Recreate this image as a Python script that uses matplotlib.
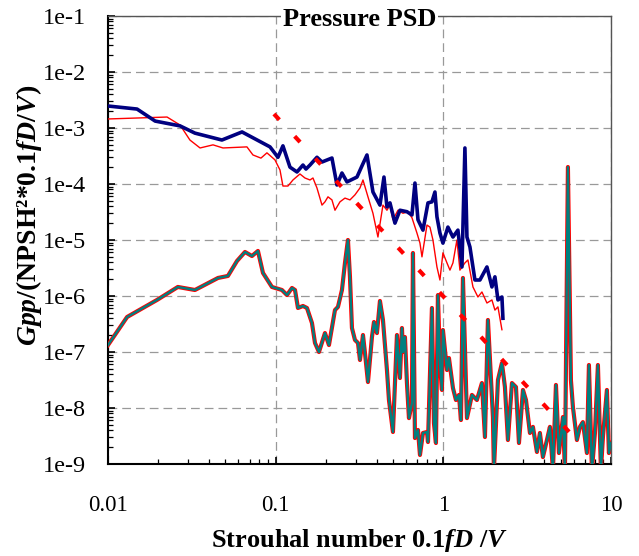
import matplotlib
matplotlib.use("Agg")
import matplotlib.pyplot as plt
from matplotlib.ticker import FixedLocator, FixedFormatter, LogLocator, NullFormatter

# ---- data ----
# upper pair (thick navy, thin red), Strouhal 0.01 .. ~2.3
st_blue = [0.0100, 0.0149, 0.0191, 0.0269, 0.0330, 0.0478, 0.0630, 0.0925, 0.1032, 0.1105,
           0.1217, 0.1340, 0.1455, 0.1516, 0.1602, 0.1763, 0.1889, 0.2166, 0.2320, 0.2485,
           0.2663, 0.3054, 0.3270, 0.3504, 0.3804, 0.4188, 0.4425, 0.4610, 0.4805, 0.5146,
           0.5511, 0.6067, 0.6499, 0.6772, 0.7058, 0.7560, 0.8099, 0.8551, 0.8912, 0.9160,
           0.9545, 0.9945, 1.065, 1.141, 1.222, 1.291, 1.345, 1.383, 1.441, 1.543,
           1.653, 1.820, 1.949, 2.031, 2.117, 2.236, 2.267]
gpp_blue = [2.47e-3, 2.18e-3, 1.33e-3, 1.09e-3, 8.1e-4, 6.1e-4, 8.5e-4, 4.6e-4, 3.0e-4, 4.8e-4,
            2.0e-4, 1.64e-4, 2.18e-4, 1.85e-4, 2.18e-4, 3.0e-4, 2.47e-4, 2.91e-4, 9.6e-5, 1.57e-4,
            1.09e-4, 1.33e-4, 2.1e-4, 3.3e-4, 7.2e-5, 4.2e-5, 1.33e-4, 3.9e-5, 4.6e-5, 2.0e-5,
            3.4e-5, 3.2e-5, 2.8e-5, 1.04e-4, 2.3e-5, 1.5e-5, 4.6e-5, 4.8e-5, 7.2e-5, 2.6e-5,
            1.33e-5, 8.8e-6, 1.7e-5, 1.13e-5, 1.5e-5, 3.3e-6, 4.4e-4, 1.13e-5, 7.5e-6, 1.93e-6,
            1.93e-6, 3.3e-6, 1.45e-6, 2.2e-6, 8.5e-7, 9.6e-7, 4.0e-7]

st_red = [0.0100, 0.0225, 0.0269, 0.0308, 0.0354, 0.0423, 0.0485, 0.0674, 0.0732, 0.0817,
          0.0887, 0.0990, 0.1061, 0.1105, 0.1184, 0.1268, 0.1396, 0.1495, 0.1602, 0.1669,
          0.1763, 0.1889, 0.1968, 0.2051, 0.2166, 0.2258, 0.2418, 0.2590, 0.2774, 0.2971,
          0.3183, 0.3317, 0.3552, 0.3804, 0.4074, 0.4364, 0.4610, 0.4805, 0.5006, 0.5362,
          0.5744, 0.6151, 0.6499, 0.6961, 0.7255, 0.7457, 0.7988, 0.8320, 0.8670, 0.9160,
          0.9545, 0.9945, 1.051, 1.095, 1.141, 1.205, 1.256, 1.345, 1.402, 1.502,
          1.608, 1.699, 1.820, 1.949, 2.031, 2.117, 2.236]
gpp_red = [1.45e-3, 1.57e-3, 1.13e-3, 6.1e-4, 4.4e-4, 5.0e-4, 4.4e-4, 4.6e-4, 3.3e-4, 2.9e-4,
           3.6e-4, 2.7e-4, 1.78e-4, 9.2e-5, 9.2e-5, 1.18e-4, 1.51e-4, 1.28e-4, 1.18e-4, 1.28e-4,
           8.5e-5, 4.2e-5, 4.8e-5, 5.9e-5, 5.2e-5, 3.4e-5, 4.8e-5, 5.6e-5, 5.2e-5, 6.4e-5,
           8.5e-5, 1.18e-4, 5.9e-5, 3.0e-5, 1.13e-5, 4.2e-5, 3.4e-5, 4.2e-5, 2.3e-5, 3.4e-5,
           3.0e-5, 3.2e-5, 2.5e-5, 1.33e-5, 8.8e-6, 5.0e-6, 1.85e-5, 1.7e-5, 1.0e-5, 3.3e-6,
           1.93e-6, 5.9e-6, 3.9e-6, 2.9e-6, 3.9e-6, 1.0e-5, 2.9e-6, 3.9e-6, 4.4e-6, 1.45e-6,
           9.6e-7, 1.18e-6, 7.5e-7, 8.5e-7, 5.6e-7, 6.4e-7, 2.5e-7]

# lower spectrum (teal with red outline), Strouhal 0.01 .. 10
st_low = [0.0100, 0.0130, 0.0196, 0.0261, 0.0330, 0.0453, 0.0519, 0.0588, 0.0656, 0.0722,
          0.0784, 0.0840, 0.0950, 0.1090, 0.1168, 0.1251, 0.1304, 0.1358, 0.1455, 0.1537,
          0.1646, 0.1716, 0.1812, 0.1968, 0.2079, 0.2258, 0.2352, 0.2485, 0.2590, 0.2698,
          0.2774, 0.2851, 0.2971, 0.3097, 0.3183, 0.3317, 0.3409, 0.3552, 0.3752, 0.3857,
          0.4019, 0.4188, 0.4364, 0.4610, 0.4739, 0.5006, 0.5289, 0.5511, 0.5665, 0.5744,
          0.5902, 0.6067, 0.6236, 0.6499, 0.6589, 0.6772, 0.7058, 0.7255, 0.7560, 0.7988,
          0.8099, 0.8551, 0.8790, 0.9035, 0.9286, 0.9545, 0.9809, 0.9945, 1.051, 1.080,
          1.141, 1.189, 1.239, 1.274, 1.309, 1.383, 1.481, 1.586, 1.699, 1.771,
          1.845, 1.976, 2.003, 2.117, 2.236, 2.330, 2.428, 2.566, 2.711, 2.825,
          2.985, 3.111, 3.285, 3.423, 3.616, 3.767, 3.926, 4.148, 4.323, 4.505,
          4.695, 4.892, 5.168, 5.312, 5.534, 5.767, 5.928, 6.262, 6.526, 6.800,
          7.184, 7.385, 7.696, 8.020, 8.356, 8.708, 8.950, 9.454, 9.716, 10.0]
gpp_low = [1.33e-7, 4.22e-7, 8.5e-7, 1.45e-6, 1.28e-6, 2.10e-6, 2.28e-6, 4.22e-6, 6.11e-6, 5.18e-6,
           6.37e-6, 2.58e-6, 1.45e-6, 1.28e-6, 1.04e-6, 1.39e-6, 1.28e-6, 6.11e-7, 6.63e-7, 6.11e-7,
           3.30e-7, 1.45e-7, 1.0e-7, 2.18e-7, 1.33e-7, 5.62e-7, 6.37e-7, 1.28e-6, 3.88e-6, 1.0e-5,
           2.19e-6, 2.68e-7, 1.64e-7, 1.45e-7, 7.2e-8, 2.01e-7, 9.6e-8, 2.91e-8, 1.85e-7, 3.43e-7,
           2.18e-7, 8.15e-7, 3.73e-7, 4.77e-8, 1.39e-8, 3.73e-9, 2.01e-7, 3.43e-8, 2.68e-7, 1.0e-7,
           1.85e-7, 2.79e-8, 6.6e-9, 1.23e-8, 5.86e-6, 2.91e-9, 4.05e-9, 1.45e-9, 3.58e-9, 3.73e-9,
           2.47e-9, 6.11e-7, 5.4e-9, 2.37e-9, 1.04e-6, 6.37e-8, 2.10e-8, 2.47e-7, 4.77e-8, 7.8e-8,
           2.28e-8, 1.39e-8, 1.71e-8, 6.1e-9, 2.10e-6, 6.6e-9, 1.71e-8, 1.39e-8, 2.79e-8, 3.03e-9,
           3.73e-7, 6.9e-9, 7.8e-10, 3.16e-8, 6.37e-8, 2.37e-8, 2.68e-9, 2.79e-8, 2.37e-8, 2.37e-9,
           2.10e-8, 1.39e-8, 3.58e-9, 4.6e-9, 1.64e-9, 3.58e-9, 1.33e-9, 2.68e-9, 4.6e-9, 7.8e-10,
           2.58e-8, 1.57e-9, 6.9e-9, 7.8e-10, 2.01e-4, 3.16e-8, 1.04e-8, 2.68e-9, 4.6e-9, 5.6e-9,
           1.57e-9, 5.86e-8, 7.8e-10, 3.58e-9, 5.86e-8, 7.8e-10, 3.03e-9, 2.10e-8, 1.57e-9, 2.37e-9]

# reference slope line (two end points)
st_slope = [0.0977, 6.09]
gpp_slope = [1.78e-3, 2.9e-9]

x_ticks = [0.01, 0.1, 1, 10]
x_ticklabels = ["0.01", "0.1", "1", "10"]
y_ticks = [1e-9, 1e-8, 1e-7, 1e-6, 1e-5, 1e-4, 1e-3, 1e-2, 1e-1]
y_ticklabels = ["1e-9", "1e-8", "1e-7", "1e-6", "1e-5", "1e-4", "1e-3", "1e-2", "1e-1"]

# ---- style ----
plt.rcParams["font.family"] = ["Liberation Serif", "DejaVu Serif"]
plt.rcParams["mathtext.fontset"] = "custom"
plt.rcParams["mathtext.rm"] = "Liberation Serif:bold"
plt.rcParams["mathtext.it"] = "Liberation Serif:italic:bold"
plt.rcParams["mathtext.bf"] = "Liberation Serif:bold"
plt.rcParams["mathtext.bfit"] = "Liberation Serif:italic:bold"

fig = plt.figure(figsize=(6.39, 5.56), dpi=100)
ax = fig.add_axes([108 / 639, 1 - 464 / 556, 503 / 639, 448 / 556])

ax.plot(st_low, gpp_low, color="red", lw=3.0, zorder=3)
ax.plot(st_low, gpp_low, color="#008080", lw=1.7, zorder=4)
ax.plot(st_red, gpp_red, color="red", lw=1.0, zorder=5)
ax.plot(st_blue, gpp_blue, color="#000080", lw=2.6, zorder=6)
ax.plot(st_slope, gpp_slope, color="red", lw=3.0, linestyle=(0, (1.9, 5.4)),
        solid_capstyle="butt", dash_capstyle="butt", zorder=7)

ax.set_xscale("log")
ax.set_yscale("log")
ax.set_xlim(0.01, 10)
ax.set_ylim(1e-9, 1e-1)

ax.xaxis.set_major_locator(FixedLocator(x_ticks))
ax.xaxis.set_major_formatter(FixedFormatter(x_ticklabels))
ax.yaxis.set_major_locator(FixedLocator(y_ticks))
ax.yaxis.set_major_formatter(FixedFormatter(y_ticklabels))
ax.xaxis.set_minor_locator(LogLocator(base=10, subs=range(2, 10), numticks=20))
ax.yaxis.set_minor_locator(LogLocator(base=10, subs=range(2, 10), numticks=20))
ax.xaxis.set_minor_formatter(NullFormatter())
ax.yaxis.set_minor_formatter(NullFormatter())

ax.tick_params(which="both", direction="in", top=False, right=False, color="black")
ax.tick_params(which="major", length=5, width=1.2)
ax.tick_params(which="minor", length=3.5, width=0.9)
ax.tick_params(axis="x", which="major", labelsize=16.5, pad=22)
ax.tick_params(axis="y", which="major", labelsize=17.5, pad=16)

ax.grid(True, which="major", color="#999999", linestyle=(0, (7, 4)), lw=0.9)

for side in ("left", "bottom"):
    ax.spines[side].set_linewidth(1.5)
    ax.spines[side].set_color("black")
for side in ("top", "right"):
    ax.spines[side].set_linewidth(1.0)
    ax.spines[side].set_color("#555555")

ax.text(0.5, 0.993, "Pressure PSD", transform=ax.transAxes, ha="center", va="center",
        fontsize=19, fontweight="bold", zorder=10,
        bbox=dict(facecolor="white", edgecolor="none", pad=1.5))

ax.set_xlabel(r"Strouhal number 0.1$\mathbfit{fD}$ /$\mathbfit{V}$",
              fontsize=19, fontweight="bold")
ax.xaxis.set_label_coords(0.5, -0.14)
ax.set_ylabel(r"$\mathbfit{Gpp}$/(NPSH²*0.1$\mathbfit{fD}$/$\mathbfit{V}$)",
              fontsize=20, fontweight="bold")
ax.yaxis.set_label_coords(-0.128, 0.555)

fig.savefig("out.png", dpi=100)
